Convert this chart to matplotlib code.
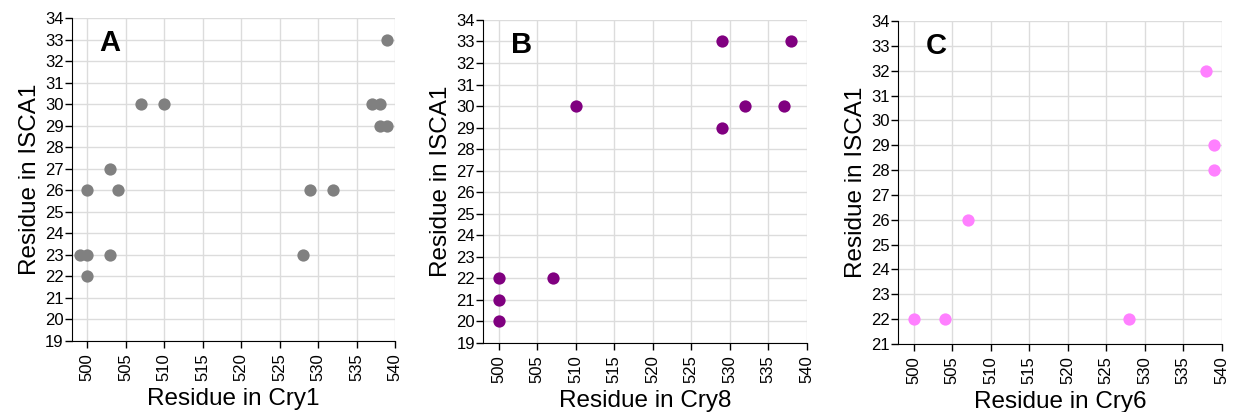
import matplotlib.pyplot as plt

plt.rcParams['font.family'] = ['Liberation Sans', 'DejaVu Sans']

# contact pairs: residue in Cry protein vs residue in ISCA1
cry1_x = [499, 500, 500, 500, 503, 503, 504, 507, 510, 528, 529, 532, 537, 538, 538, 539, 539]
cry1_y = [23, 23, 22, 26, 27, 23, 26, 30, 30, 23, 26, 26, 30, 30, 29, 29, 33]

cry8_x = [500, 500, 500, 507, 510, 529, 529, 532, 537, 538]
cry8_y = [22, 21, 20, 22, 30, 33, 29, 30, 30, 33]

cry6_x = [500, 504, 507, 528, 538, 539, 539]
cry6_y = [22, 22, 26, 22, 32, 29, 28]

panels = [
    ("A", "Residue in Cry1", cry1_x, cry1_y, "#808080", (19, 34), [0.0583, 0.1723, 0.2615, 0.784]),
    ("B", "Residue in Cry8", cry8_x, cry8_y, "#800080", (19, 34), [0.3913, 0.1682, 0.2619, 0.7833]),
    ("C", "Residue in Cry6", cry6_x, cry6_y, "#ff80ff", (21, 34), [0.7274, 0.165, 0.2618, 0.784]),
]

fig = plt.figure(figsize=(12.35, 4.12), dpi=100)

for letter, xlabel, xs, ys, col, ylim, pos in panels:
    ax = fig.add_axes(pos)
    ax.scatter(xs, ys, s=78, color=col, zorder=3, linewidths=0)
    ax.set_xlim(498, 540)
    ax.set_ylim(*ylim)
    ax.set_xticks(range(500, 541, 5))
    ax.set_yticks(range(ylim[0], 35))
    ax.tick_params(axis='x', labelrotation=90, labelsize=12, length=5, width=1, pad=4)
    ax.tick_params(axis='y', labelsize=12, length=5, width=1, pad=1)
    ax.grid(True, color='#dcdcdc', linewidth=1)
    ax.set_axisbelow(True)
    for s in ['top', 'right']:
        ax.spines[s].set_visible(False)
    ax.set_xlabel(xlabel, fontsize=17.5, labelpad=5)
    ax.set_ylabel("Residue in ISCA1", fontsize=17.5, labelpad=3)
    ax.text(0.118, 0.924, letter, transform=ax.transAxes, fontsize=21,
            fontweight='bold', ha='center', va='center')

fig.savefig("out.png", dpi=100)
